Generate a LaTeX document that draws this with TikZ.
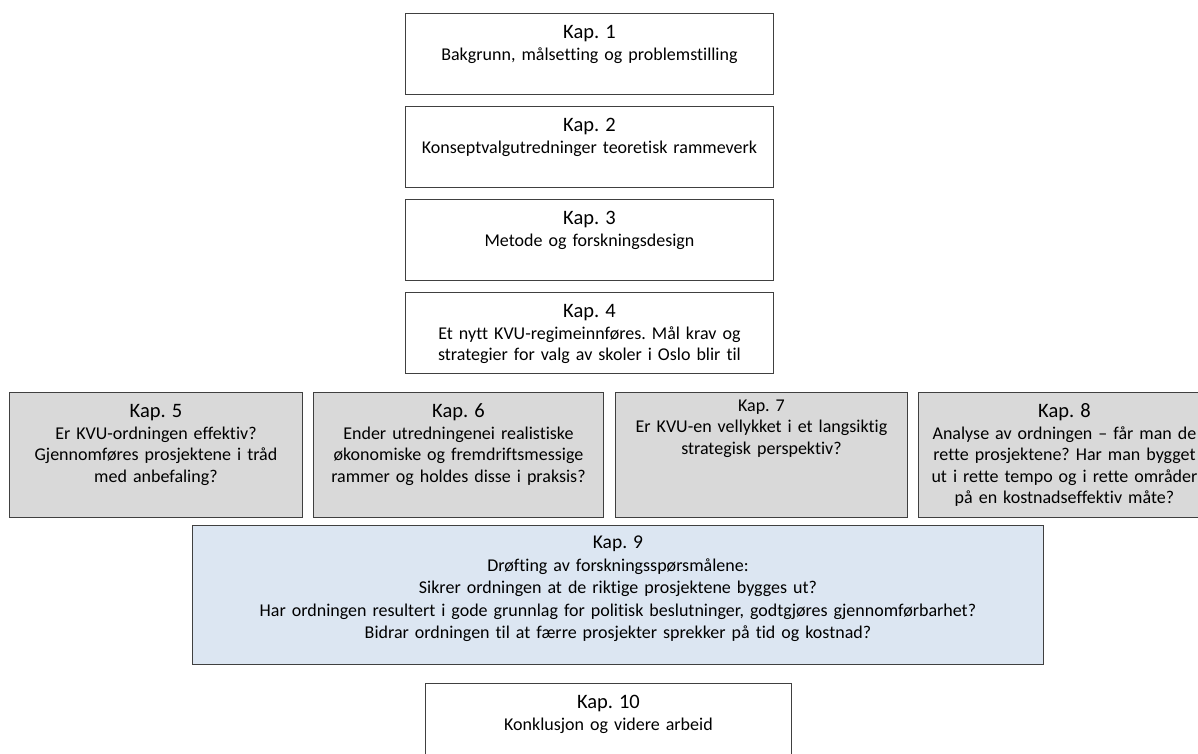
\documentclass[tikz,border=0pt]{standalone}
\usepackage{fontspec}
\setmainfont{Carlito}[Ligatures=CommonOff]
\frenchspacing
\definecolor{kapgray}{HTML}{D9D9D9}
\definecolor{kapblue}{HTML}{DCE6F2}
\definecolor{kapline}{HTML}{404040}
\newcommand\kaphd[1]{{\fontsize{20.5}{21.5}\selectfont #1}}

\begin{document}
\begin{tikzpicture}[x=1pt, y=-1pt,
  font=\fontsize{18}{21.5}\selectfont,
  box/.style={draw=kapline, fill=white, line width=0.9pt, anchor=north west, align=center,
              inner xsep=2pt, inner ysep=0pt, text height=25.5pt},
  ques/.style={box, fill=kapgray},
  disc/.style={box, fill=kapblue, text height=23.5pt, font=\fontsize{18}{22.5}\selectfont}]
\clip (0,0) rectangle (1198,754);
% ---------------- chapters 1-4
\node[box, text width=364pt, text depth=55.5pt] (k1) at (405,13)
  {\kaphd{Kap. 1}\\Bakgrunn, målsetting og problemstilling};
\node[box, text width=364pt, text depth=55.5pt] (k2) at (405,106)
  {\kaphd{Kap. 2}\\Konseptvalgutredninger teoretisk rammeverk};
\node[box, text width=364pt, text depth=55.5pt] (k3) at (405,199)
  {\kaphd{Kap. 3}\\Metode og forskningsdesign};
\node[box, text width=364pt, text depth=55.5pt] (k4) at (405,292)
  {\kaphd{Kap. 4}\\Et nytt KVU-regimeinnføres. Mål krav og\\strategier for valg av skoler i Oslo blir til};
% ---------------- research questions
\node[ques, text width=289pt, text depth=99.5pt] (k5) at (9,392)
  {\kaphd{Kap. 5}\\Er KVU-ordningen effektiv?\\Gjennomføres prosjektene i tråd\\med anbefaling?};
\node[ques, text width=286pt, text depth=99.5pt] (k6) at (313,392)
  {\kaphd{Kap. 6}\\Ender utredningenei realistiske\\økonomiske og fremdriftsmessige\\rammer og holdes disse i praksis?};
\node[ques, text width=288pt, text height=19pt, text depth=106pt] (k7) at (615,392)
  {Kap. 7\\Er KVU-en vellykket i et langsiktig\\strategisk perspektiv?};
\node[ques, text width=288pt, text depth=99.5pt] (k8) at (918,392)
  {\kaphd{Kap. 8}\\Analyse av ordningen -- får man de\\rette prosjektene? Har man bygget\\ut i rette tempo og i rette områder\\på en kostnadseffektiv måte?};
% ---------------- discussion and conclusion
\node[disc, text width=847pt, text depth=115.5pt] (k9) at (192,525)
  {{\fontsize{19.5}{21.5}\selectfont Kap. 9}\\Drøfting av forskningsspørsmålene:\\Sikrer ordningen at de riktige prosjektene bygges ut?\\Har ordningen resultert i gode grunnlag for politisk beslutninger, godtgjøres gjennomførbarhet?\\Bidrar ordningen til at færre prosjekter sprekker på tid og kostnad?};
\node[box, text width=362pt, text depth=55.5pt] (k10) at (425,683)
  {\kaphd{Kap. 10}\\Konklusjon og videre arbeid};
\end{tikzpicture}
\end{document}
